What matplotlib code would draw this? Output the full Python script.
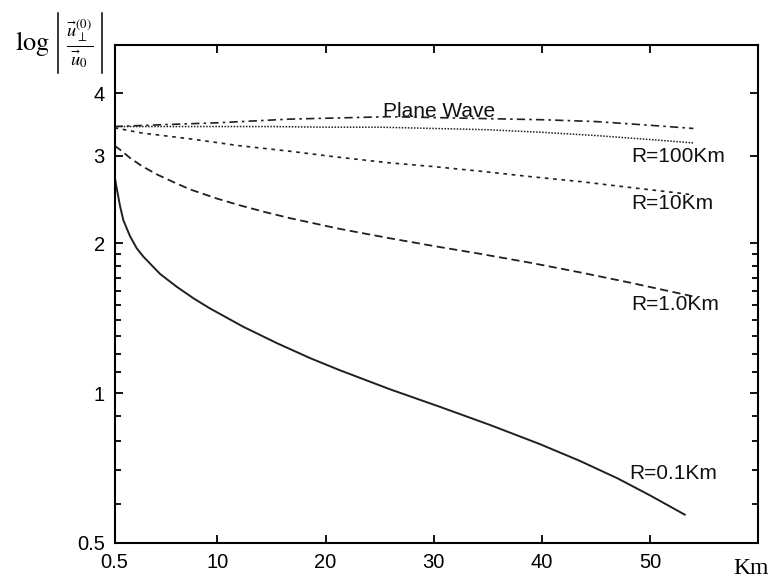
import matplotlib
matplotlib.use("Agg")
import matplotlib.pyplot as plt
from matplotlib.lines import Line2D
from matplotlib.ticker import FixedLocator, NullFormatter, FixedFormatter

plt.rcParams['mathtext.fontset'] = 'stix'
plt.rcParams['font.family'] = ['Liberation Sans', 'DejaVu Sans']

# ---- data ----
plane_x = [0.5, 5, 10, 16.7, 25.9, 34.3, 40, 45, 50, 54]
plane_y = [3.43, 3.46, 3.49, 3.55, 3.59, 3.56, 3.54, 3.51, 3.45, 3.40]

r100_x = [0.5, 5, 10, 15, 20, 25, 30, 35, 40, 45, 50, 54]
r100_y = [3.43, 3.43, 3.43, 3.43, 3.42, 3.42, 3.40, 3.38, 3.34, 3.29, 3.23, 3.18]

r10_x = [0.5, 3, 7.5, 12, 16.7, 21, 25.9, 30, 34.3, 39, 43.5, 48, 52.8, 54]
r10_y = [3.41, 3.33, 3.24, 3.14, 3.06, 2.98, 2.90, 2.85, 2.79, 2.72, 2.66, 2.59, 2.52, 2.50]

r1_x = [0.5, 1.2, 1.9, 3, 4.4, 6, 7.5, 10, 12.1, 14.5, 16.7, 21.3, 25.9, 30,
        34.3, 39, 43.5, 48, 52.8, 53.9]
r1_y = [3.14, 3.06, 2.97, 2.86, 2.75, 2.65, 2.564, 2.457, 2.382, 2.307, 2.246,
        2.137, 2.047, 1.974, 1.904, 1.826, 1.748, 1.669, 1.584, 1.565]

r01_x = [0.5, 0.73, 1.01, 1.31, 1.93, 2.55, 3.16, 4.71, 6.25, 7.8, 9.3, 12.4,
         15.5, 18.6, 21.3, 26, 30.6, 35.2, 39.8, 43.5, 47, 50, 53.2]
r01_y = [2.73, 2.56, 2.375, 2.226, 2.066, 1.954, 1.88, 1.735, 1.635, 1.55, 1.48,
         1.359, 1.26, 1.175, 1.112, 1.017, 0.938, 0.863, 0.790, 0.731, 0.674,
         0.623, 0.570]

x_ticks = [0.5, 10, 20, 30, 40, 50]
x_ticklabels = ['0.5', '10', '20', '30', '40', '50']
y_major = [0.5, 1, 2, 3, 4]
y_major_labels = ['0.5', '1', '2', '3', '4']
y_minor = [0.6, 0.7, 0.8, 0.9, 1.1, 1.2, 1.3, 1.4, 1.5, 1.6, 1.7, 1.8, 1.9]

labels = ['Plane Wave', 'R=100Km', 'R=10Km', 'R=1.0Km', 'R=0.1Km']
label_x = [25.3, 48.3, 48.3, 48.3, 48.1]
label_y = [3.68, 2.98, 2.40, 1.506, 0.689]

# ---- figure ----
W, H = 778, 579
fig = plt.figure(figsize=(W / 100, H / 100), dpi=100)
ax = fig.add_axes([0.1472, 0.0622, 0.8275, 0.860])

lc = '#202020'
ax.plot(plane_x, plane_y, color=lc, lw=1.2, linestyle=(0, (5, 2.5, 1.5, 2.5)))
ax.plot(r100_x, r100_y, color=lc, lw=1.1, linestyle=(0, (1, 1)))
ax.plot(r10_x, r10_y, color=lc, lw=1.2, linestyle=(0, (2.2, 2.8)))
ax.plot(r1_x, r1_y, color=lc, lw=1.3, linestyle=(0, (4.5, 2.5)))
ax.plot(r01_x, r01_y, color=lc, lw=1.4, linestyle='-')

ax.set_yscale('log')
ax.set_xlim(0.5, 60)
ax.set_ylim(0.5, 5)

ax.xaxis.set_major_locator(FixedLocator(x_ticks))
ax.xaxis.set_major_formatter(FixedFormatter(x_ticklabels))
ax.xaxis.set_minor_locator(FixedLocator([]))
ax.yaxis.set_major_locator(FixedLocator(y_major))
ax.yaxis.set_major_formatter(FixedFormatter(y_major_labels))
ax.yaxis.set_minor_locator(FixedLocator(y_minor))
ax.yaxis.set_minor_formatter(NullFormatter())

ax.tick_params(which='both', direction='in', top=True, right=True, width=1.3,
               colors='black', labelsize=14.5)
ax.tick_params(which='major', length=6, pad=7)
ax.tick_params(which='minor', length=4.5)
for s in ax.spines.values():
    s.set_linewidth(1.5)

for t, x, y in zip(labels, label_x, label_y):
    ax.text(x, y, t, ha='left', va='center', fontsize=15, color='#111111')

fig.text(733 / W, 1 - 569 / H, 'Km', ha='left', va='center', fontsize=17,
         family=['Liberation Serif', 'DejaVu Serif'])

# y-axis label: log |u_perp^(0) / u_0|
fig.text(15 / W, 1 - 44 / H, r'$\log$', ha='left', va='center', fontsize=19)
fig.text(80 / W, 1 - 44 / H, r'$\frac{\vec{u}_{\perp}^{(0)}}{\vec{u}_{0}}$',
         ha='center', va='center', fontsize=19)
for bx in (58, 102):
    fig.add_artist(Line2D([bx / W, bx / W], [1 - 13 / H, 1 - 73 / H],
                          transform=fig.transFigure, color='black', lw=1.1))

fig.savefig('out.png', dpi=100)
